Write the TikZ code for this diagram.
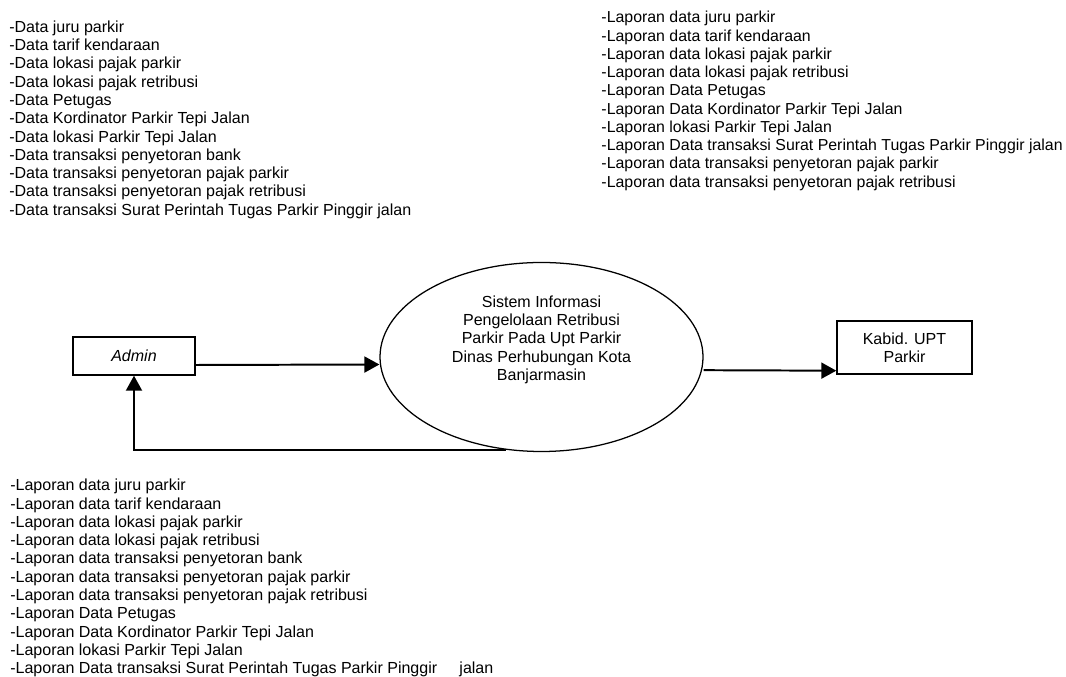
\documentclass[tikz,border=0pt]{standalone}
\usepackage{fontspec}
\setmainfont{Liberation Sans}
\usetikzlibrary{arrows.meta,shapes.geometric}

\begin{document}
\begin{tikzpicture}[>={Triangle[length=0.375cm,width=0.4cm]},
    font=\fontsize{11.4pt}{13pt}\selectfont,
    entitas/.style={draw=black, line width=1pt, inner sep=0pt, align=center},
    aliran/.style={draw=black, line width=1.4pt, ->},
    daftar/.style={anchor=north west, inner sep=0pt, align=left}]
    \useasboundingbox (0,0) rectangle (26.65,16.925);
    \node (admin) [entitas, minimum width=3.05cm, minimum height=0.95cm] at (3.35,8.025) {\itshape Admin};
    \node (sis)   [ellipse, draw=black, line width=0.9pt, inner sep=0pt, minimum width=8.075cm, minimum height=4.725cm, align=center, text depth=0.95cm] at (13.5375,8.0)
        {Sistem Informasi\\ Pengelolaan Retribusi\\ Parkir Pada Upt Parkir\\ Dinas Perhubungan Kota\\ Banjarmasin};
    \node (kabid) [entitas, minimum width=3.375cm, minimum height=1.325cm] at (22.6125,8.2375) {Kabid. UPT\\ Parkir};
    % daftar aliran data
    \node (datamasuk) [daftar] at (0.225,16.4125)
        {-Data juru parkir\\ -Data tarif kendaraan\\ -Data lokasi pajak parkir\\ -Data lokasi pajak retribusi\\
         -Data Petugas\\ -Data Kordinator Parkir Tepi Jalan\\ -Data lokasi Parkir Tepi Jalan\\
         -Data transaksi penyetoran bank\\ -Data transaksi penyetoran pajak parkir\\
         -Data transaksi penyetoran pajak retribusi\\ -Data transaksi Surat Perintah Tugas Parkir Pinggir jalan};
    \node (lapkabid) [daftar, font=\fontsize{11.3pt}{13pt}\selectfont] at (15.03,16.65)
        {-Laporan data juru parkir\\ -Laporan data tarif kendaraan\\ -Laporan data lokasi pajak parkir\\
         -Laporan data lokasi pajak retribusi\\ -Laporan Data Petugas\\ -Laporan Data Kordinator Parkir Tepi Jalan\\
         -Laporan lokasi Parkir Tepi Jalan\\ -Laporan Data transaksi Surat Perintah Tugas Parkir Pinggir jalan\\
         -Laporan data transaksi penyetoran pajak parkir\\ -Laporan data transaksi penyetoran pajak retribusi};
    \node (lapadmin) [daftar] at (0.25,4.95)
        {-Laporan data juru parkir\\ -Laporan data tarif kendaraan\\ -Laporan data lokasi pajak parkir\\
         -Laporan data lokasi pajak retribusi\\ -Laporan data transaksi penyetoran bank\\
         -Laporan data transaksi penyetoran pajak parkir\\ -Laporan data transaksi penyetoran pajak retribusi\\
         -Laporan Data Petugas\\ -Laporan Data Kordinator Parkir Tepi Jalan\\ -Laporan lokasi Parkir Tepi Jalan\\
         -Laporan Data transaksi Surat Perintah Tugas Parkir Pinggir\ \ \ \ \ jalan};
    % admin -> sistem -> kabid
    \draw [aliran] ([yshift=-0.225cm]admin.east) -- ([yshift=-0.1875cm]sis.west);
    \draw [aliran] ([yshift=-0.33cm]sis.east) -- ([yshift=-0.58cm]kabid.west);
    % laporan kembali ke admin
    \draw [aliran] (sis.249) -| (admin.south);
\end{tikzpicture}
\end{document}
